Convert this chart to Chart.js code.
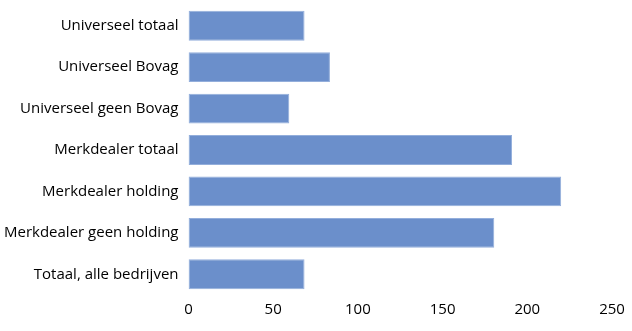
<!DOCTYPE html>
<html>
<head>
<meta charset="utf-8">
<script src="https://cdn.jsdelivr.net/npm/chart.js@4"></script>
<style>
  html, body { margin: 0; padding: 0; background: #fff; }
  #wrap { width: 632px; height: 331px; }
</style>
</head>
<body>
<div id="wrap"><canvas id="myChart" width="632" height="331"></canvas></div>
<script>
const categories = [
    'Universeel totaal',
    'Universeel Bovag',
    'Universeel geen Bovag',
    'Merkdealer totaal',
    'Merkdealer holding',
    'Merkdealer geen holding',
    'Totaal, alle bedrijven'
];
const values = [68.5, 83.5, 59.5, 191, 220, 180.5, 68.5];
const xTicks = [0, 50, 100, 150, 200, 250];

const ctx = document.getElementById('myChart');

var myChart = new Chart(ctx, {
    type: 'bar',
    data: {
        labels: categories,
        datasets: [{
            data: values,
            backgroundColor: '#6b8fcb',
            borderColor: '#93aedb',
            borderWidth: 1,
            borderSkipped: false,
            categoryPercentage: 1,
            barPercentage: 0.72
        }]
    },
    options: {
        indexAxis: 'y',
        responsive: false,
        animation: false,
        layout: {
            padding: { top: 5, right: 20, bottom: 0, left: 0 }
        },
        plugins: {
            legend: { display: false },
            tooltip: { enabled: false }
        },
        scales: {
            x: {
                min: xTicks[0],
                max: xTicks[xTicks.length - 1],
                afterBuildTicks: function (scale) {
                    scale.ticks = xTicks.map(v => ({ value: v }));
                },
                grid: { display: false, drawTicks: false },
                border: { display: false },
                ticks: {
                    color: '#000',
                    padding: 6,
                    font: { family: 'Open Sans', size: 15 },
                    maxRotation: 0
                },
                afterFit: function (scale) {
                    scale.height = 36;
                    scale.paddingLeft = 0;
                    scale.paddingRight = 0;
                }
            },
            y: {
                grid: { display: false, drawTicks: false },
                border: { display: false },
                ticks: {
                    color: '#000',
                    padding: 10,
                    font: { family: 'Open Sans', size: 15 }
                },
                afterFit: function (scale) {
                    scale.width = 188.5;
                    scale.paddingTop = 0;
                    scale.paddingBottom = 0;
                }
            }
        }
    }
});
</script>
</body>
</html>
